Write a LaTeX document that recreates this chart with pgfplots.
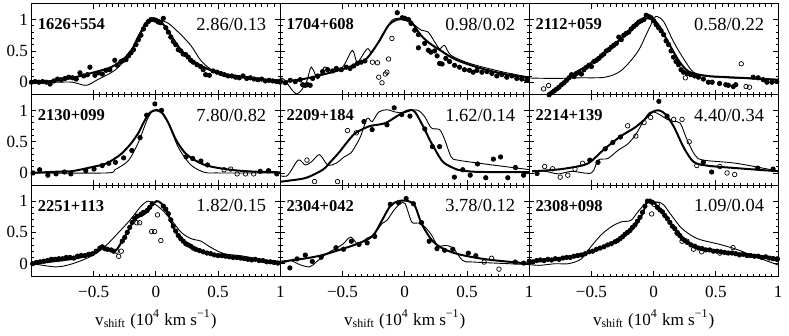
\documentclass[border=0pt]{standalone}
\usepackage{fontspec}
\setmainfont{Liberation Serif}
\usepackage{pgfplots}
\pgfplotsset{compat=1.18}
\usepgfplotslibrary{groupplots}

\pgfplotsset{
  thk/.style={black, line width=1pt, smooth, tension=0.5, no marks},
  thn/.style={black, line width=0.45pt, smooth, tension=0.5, no marks},
  dat/.style={only marks, mark=*, mark size=1.1pt, black},
  rej/.style={only marks, mark=o, mark size=1.15pt, black, mark options={line width=0.35pt}},
}
\newcommand{\lab}[2]{%
  \node[anchor=west, inner sep=0pt, font=\fontsize{8.3}{9}\selectfont\bfseries] at (rel axis cs:0.024,0.775) {#1};
  \node[anchor=east, inner sep=0pt, font=\fontsize{9.3}{10}\selectfont] at (rel axis cs:0.945,0.775) {#2};}

\begin{document}
\begin{tikzpicture}
\begin{groupplot}[
  group style={group size=3 by 3, horizontal sep=0pt, vertical sep=0pt,
    xticklabels at=edge bottom, yticklabels at=edge left},
  scale only axis, width=125.25pt, height=45.67pt,
  xmin=-1, xmax=1, ymin=-0.2, ymax=1.25,
  xtick={-0.5,0,0.5,1}, xticklabels={−0.5,0,0.5,1},
  ytick={0,0.5,1}, yticklabels={0,0.5,1},
  minor x tick num=9, minor y tick num=4,
  major tick length=2.5pt, minor tick length=1.3pt,
  tick style={black, line width=0.4pt},
  axis line style={line width=0.5pt},
  ticklabel style={font=\fontsize{8.6}{10}\selectfont},
  xticklabel style={yshift=-1.6pt},
  yticklabel style={xshift=1.8pt},
  label style={font=\fontsize{8.6}{10}\selectfont},
  xlabel style={yshift=1pt},
]
% ---- 1626+554
\nextgroupplot
\addplot[thn] coordinates {(-1.0,0.0)(-0.8,0.0)(-0.67,0.0)(-0.56,-0.05)(-0.46,0.05)(-0.33,0.19)(-0.22,0.43)(-0.14,0.75)(-0.06,1.0)(0.02,1.0)(0.1,0.94)(0.18,0.8)(0.28,0.59)(0.36,0.35)(0.44,0.21)(0.55,0.12)(0.65,0.08)(0.8,0.05)(1.0,0.03)};
\addplot[thk] coordinates {(-1.0,0.0)(-0.93,0.0)(-0.8,0.03)(-0.67,0.07)(-0.55,0.13)(-0.40,0.21)(-0.33,0.27)(-0.27,0.35)(-0.22,0.45)(-0.17,0.59)(-0.13,0.75)(-0.09,0.91)(-0.05,0.99)(-0.02,1.0)(0.02,0.99)(0.07,0.9)(0.12,0.75)(0.17,0.6)(0.23,0.45)(0.28,0.36)(0.34,0.29)(0.44,0.19)(0.55,0.13)(0.65,0.1)(0.8,0.06)(0.92,0.03)(1.0,0.02)};
\addplot[dat] coordinates {(-1.0,0.0)(-0.97,0.01)(-0.94,0.0)(-0.91,0.01)(-0.88,0.0)(-0.85,-0.03)(-0.82,0.02)(-0.79,0.05)(-0.76,0.04)(-0.73,0.06)(-0.70,0.08)(-0.67,0.07)(-0.64,0.05)(-0.61,0.15)(-0.58,0.1)(-0.55,0.12)(-0.53,0.24)(-0.49,0.11)(-0.46,0.15)(-0.43,0.13)(-0.40,0.19)(-0.37,0.2)(-0.33,0.35)(-0.31,0.27)(-0.28,0.33)(-0.26,0.35)(-0.24,0.36)(-0.22,0.42)(-0.20,0.47)(-0.18,0.52)(-0.16,0.6)(-0.14,0.68)(-0.12,0.75)(-0.10,0.85)(-0.08,0.92)(-0.06,0.97)(-0.04,1.0)(-0.02,1.0)(0.0,0.99)(0.02,0.96)(0.04,0.95)(0.06,1.02)(0.08,0.87)(0.10,0.8)(0.12,0.72)(0.14,0.65)(0.16,0.6)(0.18,0.52)(0.20,0.5)(0.22,0.45)(0.24,0.44)(0.26,0.4)(0.28,0.35)(0.30,0.32)(0.33,0.28)(0.36,0.25)(0.38,0.2)(0.40,0.12)(0.43,0.11)(0.46,0.18)(0.49,0.16)(0.52,0.14)(0.55,0.12)(0.58,0.1)(0.61,0.1)(0.64,0.08)(0.67,0.07)(0.70,0.1)(0.73,0.06)(0.76,0.07)(0.79,0.05)(0.82,0.04)(0.85,0.05)(0.88,0.02)(0.91,0.03)(0.94,0.02)(0.97,0.01)(1.0,0.0)};
\lab{1626+554}{2.86/0.13}
% ---- 1704+608
\nextgroupplot
\addplot[thn] coordinates {(-1.056,0.080)(-0.976,0.053)(-0.870,-0.187)(-0.791,0.0)(-0.751,0.241)(-0.698,0.053)(-0.646,0.241)(-0.593,0.187)(-0.5,0.241)(-0.421,0.508)(-0.381,0.321)(-0.302,0.535)(-0.262,0.481)(-0.183,0.749)(-0.103,0.989)(-0.050,1.02)(0.029,1.02)(0.082,0.909)(0.135,0.829)(0.188,0.802)(0.241,0.642)(0.280,0.535)(0.320,0.588)(0.373,0.428)(0.532,0.294)(0.796,0.160)(1.008,0.080)};
\addplot[thk] coordinates {(-1.0,0.0)(-0.79,0.06)(-0.53,0.19)(-0.4,0.28)(-0.31,0.37)(-0.21,0.64)(-0.13,0.91)(-0.06,1.0)(0.0,1.0)(0.06,0.94)(0.13,0.75)(0.2,0.62)(0.27,0.53)(0.40,0.37)(0.58,0.24)(0.8,0.13)(1.0,0.07)};
\addplot[dat] coordinates {(-1.0,0.02)(-0.96,-0.01)(-0.92,0.03)(-0.88,0.01)(-0.84,0.04)(-0.82,-0.04)(-0.80,-0.05)(-0.78,-0.04)(-0.76,-0.05)(-0.74,0.06)(-0.70,0.1)(-0.66,0.17)(-0.62,0.2)(-0.58,0.18)(-0.55,0.22)(-0.51,0.2)(-0.47,0.24)(-0.44,0.22)(-0.41,0.26)(-0.38,0.3)(-0.35,0.32)(-0.32,0.34)(-0.06,1.11)(-0.02,1.03)(0.0,1.02)(0.03,1.0)(0.05,0.94)(0.08,0.83)(0.11,0.76)(0.11,0.55)(0.16,0.62)(0.19,0.51)(0.21,0.48)(0.24,0.5)(0.26,0.42)(0.28,0.3)(0.30,0.29)(0.33,0.38)(0.36,0.33)(0.40,0.27)(0.44,0.24)(0.48,0.2)(0.52,0.19)(0.55,0.16)(0.58,0.19)(0.62,0.16)(0.66,0.17)(0.70,0.14)(0.74,0.1)(0.78,0.12)(0.82,0.08)(0.86,0.1)(0.90,0.06)(0.94,0.05)(0.98,0.03)};
\addplot[rej] coordinates {(-0.26,0.32)(-0.22,0.31)(-0.209,0.08)(-0.183,-0.01)(-0.156,0.13)(-0.143,0.16)(-0.13,0.37)(-0.103,0.70)};
\lab{1704+608}{0.98/0.02}
% ---- 2112+059
\nextgroupplot
\addplot[thn] coordinates {(-1.056,0.07)(-0.8,0.06)(-0.6,0.07)(-0.39,0.08)(-0.26,0.187)(-0.13,0.481)(-0.05,0.802)(0.003,1.016)(0.029,1.05)(0.082,0.963)(0.161,0.642)(0.241,0.374)(0.32,0.16)(0.426,0.096)(0.6,0.07)(0.8,0.055)(1.008,0.043)};
\addplot[thk] coordinates {(-0.84,-0.21)(-0.66,0.11)(-0.53,0.27)(-0.39,0.48)(-0.26,0.70)(-0.13,0.96)(-0.05,1.02)(0.0,1.0)(0.05,0.88)(0.13,0.59)(0.21,0.32)(0.29,0.16)(0.43,0.10)(0.6,0.08)(0.8,0.06)(1.0,0.04)};
\addplot[dat] coordinates {(-0.84,-0.2)(-0.82,-0.17)(-0.80,-0.14)(-0.78,-0.11)(-0.76,-0.08)(-0.74,-0.04)(-0.72,-0.01)(-0.70,0.03)(-0.68,0.07)(-0.66,0.12)(-0.64,0.09)(-0.62,0.14)(-0.60,0.16)(-0.58,0.13)(-0.56,0.2)(-0.54,0.24)(-0.52,0.27)(-0.50,0.25)(-0.48,0.33)(-0.46,0.35)(-0.44,0.38)(-0.42,0.42)(-0.40,0.45)(-0.38,0.5)(-0.36,0.52)(-0.34,0.56)(-0.32,0.59)(-0.30,0.62)(-0.28,0.72)(-0.26,0.68)(-0.24,0.75)(-0.22,0.78)(-0.20,0.8)(-0.18,0.85)(-0.16,0.89)(-0.14,0.92)(-0.12,0.96)(-0.10,0.98)(-0.08,1.0)(-0.06,1.07)(-0.04,1.05)(-0.02,1.03)(0.0,0.98)(0.02,0.92)(0.04,0.87)(0.06,0.82)(0.08,0.76)(0.10,0.66)(0.12,0.6)(0.14,0.5)(0.16,0.4)(0.18,0.33)(0.20,0.28)(0.22,0.2)(0.24,0.16)(0.27,0.14)(0.30,0.12)(0.33,0.1)(0.36,0.08)(0.40,0.05)(0.44,0.0)(0.47,0.0)(0.53,-0.02)(0.58,-0.04)(0.60,-0.05)(0.64,-0.07)(0.66,-0.04)(0.80,0.08)(0.84,0.07)(0.88,0.04)(0.91,0.0)(0.95,0.0)(0.99,0.01)};
\addplot[rej] coordinates {(-0.884,-0.107)(-0.844,-0.053)(0.255,0.07)(0.29,0.134)(0.704,0.294)(0.743,-0.07)(0.77,-0.08)};
\lab{2112+059}{0.58/0.22}
% ---- 2130+099
\nextgroupplot
\addplot[thn] coordinates {(-1.0,0.0)(-0.4,0.0)(-0.33,0.05)(-0.22,0.2)(-0.14,0.49)(-0.07,0.85)(-0.02,1.0)(0.03,1.0)(0.1,0.8)(0.18,0.41)(0.28,0.13)(0.39,0.01)(0.5,0.0)(1.0,0.0)};
\addplot[thk] coordinates {(-1.0,0.0)(-0.8,0.02)(-0.67,0.03)(-0.5,0.1)(-0.40,0.15)(-0.3,0.27)(-0.25,0.36)(-0.2,0.47)(-0.14,0.64)(-0.1,0.8)(-0.05,0.96)(0.0,1.0)(0.05,0.96)(0.1,0.8)(0.14,0.62)(0.17,0.5)(0.23,0.33)(0.3,0.22)(0.39,0.13)(0.5,0.08)(0.65,0.04)(0.8,0.02)(1.0,0.01)};
\addplot[dat] coordinates {(-0.987,0.0)(-0.934,0.051)(-0.868,-0.036)(-0.802,-0.015)(-0.735,0.015)(-0.683,-0.015)(-0.563,0.036)(-0.497,0.062)(-0.431,0.118)(-0.378,0.154)(-0.325,0.169)(-0.259,0.241)(-0.193,0.359)(-0.127,0.564)(-0.074,0.923)(-0.008,1.103)(0.045,1.0)(0.243,0.256)(0.296,0.231)(0.362,0.19)(0.415,0.128)(0.839,0.026)(0.905,0.036)(0.971,-0.015)};
\addplot[rej] coordinates {(0.548,0.051)(0.601,0.062)(0.653,-0.015)(0.72,-0.015)(0.786,-0.015)};
\lab{2130+099}{7.80/0.82}
% ---- 2209+184
\nextgroupplot
\addplot[thn] coordinates {(-1.056,0.0)(-0.95,-0.051)(-0.857,0.205)(-0.799,0.128)(-0.743,0.19)(-0.685,0.292)(-0.619,0.128)(-0.553,0.154)(-0.487,0.256)(-0.434,0.318)(-0.394,0.436)(-0.354,0.59)(-0.302,0.872)(-0.262,0.821)(-0.209,0.974)(-0.143,1.01)(-0.077,0.974)(-0.011,0.959)(0.056,1.0)(0.108,1.0)(0.161,0.897)(0.214,0.718)(0.28,0.692)(0.32,0.538)(0.373,0.256)(0.426,0.205)(0.664,0.138)(1.008,0.051)};
\addplot[thk] coordinates {(-1.056,-0.154)(-0.92,-0.12)(-0.791,-0.077)(-0.659,0.051)(-0.6,0.17)(-0.526,0.333)(-0.46,0.5)(-0.394,0.641)(-0.288,0.744)(-0.22,0.77)(-0.156,0.795)(-0.1,0.86)(-0.05,0.923)(0.029,1.0)(0.082,0.974)(0.161,0.692)(0.2,0.53)(0.241,0.385)(0.28,0.25)(0.32,0.154)(0.426,0.051)(0.55,0.02)(0.664,0.015)(1.008,0.015)};
\addplot[dat] coordinates {(-1.04,-0.015)(-0.328,0.821)(-0.262,0.692)(-0.143,0.769)(-0.085,1.041)(-0.024,0.933)(0.042,0.908)(0.161,0.703)(0.222,0.421)(0.28,0.421)(0.399,-0.067)(0.466,0.051)(0.526,-0.036)(0.585,0.144)(0.651,-0.077)(0.712,0.221)(0.77,0.256)(0.828,-0.077)(0.889,0.087)(0.955,-0.036)};
\addplot[rej] coordinates {(-0.786,0.205)(-0.725,-0.138)(-0.54,-0.138)(-0.46,0.677)(-0.389,0.641)};
\lab{2209+184}{1.62/0.14}
% ---- 2214+139
\nextgroupplot
\addplot[thn] coordinates {(-0.976,0.036)(-0.87,0.026)(-0.765,-0.015)(-0.659,0.026)(-0.5,0.0)(-0.447,0.205)(-0.368,0.231)(-0.288,0.359)(-0.209,0.462)(-0.143,0.615)(-0.077,0.846)(-0.037,0.959)(0.003,0.974)(0.056,0.923)(0.108,0.856)(0.161,0.821)(0.214,0.795)(0.267,0.538)(0.333,0.282)(0.399,0.205)(0.664,0.154)(1.008,0.026)};
\addplot[thk] coordinates {(-0.976,0.026)(-0.791,0.051)(-0.659,0.087)(-0.526,0.154)(-0.394,0.385)(-0.262,0.59)(-0.156,0.718)(-0.077,0.846)(-0.011,0.974)(0.042,1.0)(0.095,0.938)(0.161,0.744)(0.241,0.41)(0.32,0.179)(0.426,0.118)(0.664,0.077)(1.008,0.026)};
\addplot[dat] coordinates {(-1.04,-0.036)(-0.937,-0.01)(-0.513,0.205)(-0.447,0.169)(-0.389,0.385)(-0.328,0.487)(-0.267,0.574)(0.042,1.144)(0.108,0.908)(0.399,0.169)(0.466,0.015)(0.836,0.077)(0.96,0.062)};
\addplot[rej] coordinates {(-0.876,0.103)(-0.812,0.067)(-0.751,-0.067)(-0.69,-0.036)(-0.632,0.062)(-0.571,0.154)(-0.209,0.754)(-0.143,0.59)(-0.077,0.805)(-0.024,0.887)(0.161,0.856)(0.228,0.856)(0.286,0.497)(0.347,0.118)(0.532,0.103)(0.59,0.0)(0.651,-0.026)};
\lab{2214+139}{4.40/0.34}
% ---- 2251+113
\nextgroupplot[xlabel={v\textsubscript{shift} (10\textsuperscript{4} km s\textsuperscript{−1})}]
\addplot[thn] coordinates {(-0.987,0.0)(-0.802,-0.051)(-0.669,0.0)(-0.511,0.128)(-0.405,0.282)(-0.299,0.5)(-0.22,0.67)(-0.167,0.8)(-0.114,0.93)(-0.061,1.0)(-0.008,0.95)(0.045,0.87)(0.124,0.7)(0.204,0.5)(0.283,0.4)(0.362,0.36)(0.442,0.26)(0.548,0.16)(0.706,0.12)(1.024,0.0)};
\addplot[thk] coordinates {(-0.987,0.0)(-0.669,0.077)(-0.511,0.154)(-0.431,0.256)(-0.378,0.231)(-0.325,0.205)(-0.272,0.359)(-0.22,0.538)(-0.167,0.718)(-0.114,0.769)(-0.074,0.821)(-0.034,0.923)(0.005,1.0)(0.045,0.96)(0.098,0.795)(0.151,0.538)(0.23,0.333)(0.336,0.205)(0.495,0.128)(0.706,0.077)(1.024,0.026)};
\addplot[dat] coordinates {(-0.99,0.0)(-0.96,0.02)(-0.93,0.03)(-0.9,0.04)(-0.87,0.05)(-0.84,0.07)(-0.81,0.07)(-0.78,0.08)(-0.75,0.08)(-0.72,0.1)(-0.69,0.1)(-0.66,0.09)(-0.63,0.12)(-0.6,0.13)(-0.57,0.13)(-0.54,0.15)(-0.51,0.16)(-0.48,0.2)(-0.45,0.25)(-0.43,0.27)(-0.41,0.24)(-0.39,0.23)(-0.36,0.22)(-0.34,0.2)(-0.27,0.36)(-0.25,0.42)(-0.23,0.5)(-0.21,0.58)(-0.19,0.66)(-0.17,0.72)(-0.15,0.76)(-0.12,0.79)(-0.1,0.82)(-0.07,0.85)(-0.05,0.9)(-0.03,0.96)(0.06,0.92)(0.08,0.87)(0.1,0.8)(0.12,0.7)(0.14,0.6)(0.16,0.52)(0.18,0.45)(0.2,0.4)(0.22,0.36)(0.24,0.32)(0.26,0.3)(0.28,0.28)(0.3,0.25)(0.32,0.23)(0.35,0.21)(0.38,0.19)(0.41,0.17)(0.44,0.16)(0.47,0.14)(0.5,0.13)(0.53,0.13)(0.56,0.12)(0.59,0.11)(0.62,0.1)(0.65,0.1)(0.68,0.09)(0.71,0.08)(0.74,0.07)(0.77,0.06)(0.8,0.07)(0.83,0.05)(0.86,0.05)(0.89,0.03)(0.92,0.03)(0.95,0.02)(0.98,0.01)};
\addplot[rej] coordinates {(-0.317,0.2)(-0.299,0.118)(-0.278,0.2)(-0.153,0.654)(-0.13,0.654)(-0.034,0.513)(-0.01,0.513)(0.013,0.78)(0.04,0.37)};
\lab{2251+113}{1.82/0.15}
% ---- 2304+042
\nextgroupplot[xlabel={v\textsubscript{shift} (10\textsuperscript{4} km s\textsuperscript{−1})}]
\addplot[thn] coordinates {(-1.056,0.026)(-0.923,0.051)(-0.844,-0.015)(-0.765,-0.051)(-0.712,0.026)(-0.632,0.154)(-0.566,0.231)(-0.5,0.308)(-0.434,0.425)(-0.373,0.308)(-0.302,0.41)(-0.249,0.462)(-0.183,0.641)(-0.143,0.692)(-0.09,0.846)(-0.037,0.959)(0.003,0.959)(0.056,0.667)(0.108,0.651)(0.161,0.59)(0.214,0.462)(0.267,0.282)(0.32,0.292)(0.386,0.256)(0.466,0.051)(0.558,0.026)(1.008,-0.015)};
\addplot[thk] coordinates {(-1.056,-0.015)(-0.923,0.051)(-0.791,0.087)(-0.659,0.138)(-0.526,0.221)(-0.394,0.308)(-0.262,0.436)(-0.183,0.692)(-0.116,0.923)(-0.05,1.0)(0.029,1.0)(0.082,0.923)(0.135,0.641)(0.214,0.385)(0.294,0.256)(0.426,0.154)(0.664,0.067)(1.008,0.0)};
\addplot[dat] coordinates {(-1.04,0.0)(-0.923,-0.067)(-0.865,0.077)(-0.799,0.138)(-0.743,0.036)(-0.672,0.103)(-0.553,0.256)(-0.492,0.231)(-0.429,0.359)(-0.368,0.308)(-0.302,0.333)(-0.241,0.436)(-0.116,0.949)(-0.05,0.974)(0.011,1.041)(0.069,0.959)(0.135,0.656)(0.196,0.359)(0.259,0.241)(0.32,0.215)(0.386,0.231)(0.511,0.169)(0.571,0.128)(0.889,0.026)(0.955,0.01)};
\addplot[rej] coordinates {(0.638,0.026)(0.698,0.087)(0.757,-0.087)};
\lab{2304+042}{3.78/0.12}
% ---- 2308+098
\nextgroupplot[xlabel={v\textsubscript{shift} (10\textsuperscript{4} km s\textsuperscript{−1})}]
\addplot[thn] coordinates {(-1.056,0.0)(-0.923,-0.026)(-0.791,0.0)(-0.685,0.0)(-0.58,0.077)(-0.5,0.282)(-0.421,0.462)(-0.341,0.59)(-0.262,0.667)(-0.183,0.692)(-0.13,0.82)(-0.077,0.938)(-0.024,0.99)(0.056,0.974)(0.082,0.938)(0.135,0.795)(0.214,0.59)(0.294,0.462)(0.373,0.385)(0.532,0.308)(0.664,0.231)(0.796,0.128)(1.008,-0.026)};
\addplot[thk] coordinates {(-1.056,0.026)(-0.791,0.077)(-0.526,0.179)(-0.394,0.282)(-0.262,0.41)(-0.156,0.59)(-0.09,0.795)(-0.05,1.0)(0.003,0.974)(0.056,0.846)(0.108,0.718)(0.188,0.513)(0.267,0.359)(0.373,0.256)(0.532,0.205)(0.796,0.138)(1.008,0.087)};
\addplot[dat] coordinates {(-1.04,0.05)(-1.0,0.04)(-0.97,0.03)(-0.94,0.05)(-0.91,0.06)(-0.88,0.05)(-0.85,0.07)(-0.82,0.06)(-0.79,0.08)(-0.76,0.07)(-0.73,0.09)(-0.7,0.1)(-0.67,0.1)(-0.64,0.12)(-0.61,0.13)(-0.58,0.14)(-0.55,0.16)(-0.52,0.19)(-0.49,0.2)(-0.46,0.23)(-0.43,0.25)(-0.4,0.27)(-0.37,0.3)(-0.34,0.32)(-0.31,0.35)(-0.29,0.37)(-0.27,0.4)(-0.25,0.43)(-0.23,0.47)(-0.21,0.5)(-0.19,0.53)(-0.17,0.58)(-0.15,0.62)(-0.13,0.68)(-0.11,0.74)(-0.09,0.82)(-0.07,0.92)(-0.05,1.0)(-0.03,1.0)(-0.01,0.98)(0.03,0.9)(0.05,0.86)(0.07,0.83)(0.09,0.77)(0.11,0.72)(0.13,0.66)(0.15,0.6)(0.17,0.56)(0.19,0.5)(0.21,0.45)(0.23,0.4)(0.25,0.37)(0.27,0.34)(0.3,0.3)(0.33,0.28)(0.36,0.25)(0.39,0.24)(0.42,0.22)(0.45,0.22)(0.48,0.2)(0.51,0.2)(0.54,0.19)(0.57,0.18)(0.6,0.17)(0.63,0.17)(0.66,0.16)(0.69,0.14)(0.72,0.15)(0.75,0.13)(0.78,0.13)(0.81,0.12)(0.84,0.12)(0.87,0.1)(0.9,0.11)(0.93,0.09)(0.96,0.08)(0.99,0.07)};
\addplot[rej] coordinates {(-0.016,0.795)(0.003,0.949)(0.029,0.949)(0.188,0.487)(0.228,0.359)(0.267,0.359)(0.32,0.231)(0.386,0.19)(0.532,0.169)(0.638,0.256)(0.995,0.077)};
\lab{2308+098}{1.09/0.04}
\end{groupplot}
\path (group c3r3.south east) -- ++(5.5pt,0pt);
\path (group c1r3.south west) -- ++(0pt,-30pt);
\path (group c1r1.north west) -- ++(0pt,2pt);
\end{tikzpicture}
\end{document}
